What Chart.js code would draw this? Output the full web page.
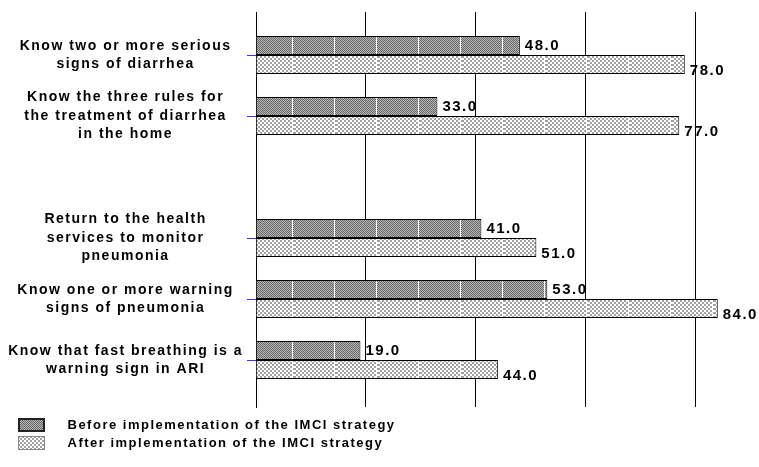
<!DOCTYPE html>
<html>
<head>
<meta charset="utf-8">
<script src="https://cdn.jsdelivr.net/npm/chart.js@4.4.1/dist/chart.umd.min.js"></script>
<style>
  html, body { margin: 0; padding: 0; background: #fff; }
  canvas { display: block; }
</style>
</head>
<body>
<canvas id="imciChart" width="759" height="467"></canvas>
<script>
// categories as wrapped in the original (blank row kept as a gap)
var categories = [
    ['Know two or more serious', 'signs of diarrhea'],
    ['Know the three rules for', 'the treatment of diarrhea', 'in the home'],
    '',
    ['Return to the health', 'services to monitor', 'pneumonia'],
    ['Know one or more warning', 'signs of pneumonia'],
    ['Know that fast breathing is a', 'warning sign in ARI']
];
var beforeValues = [48.0, 33.0, null, 41.0, 53.0, 19.0];
var afterValues = [78.0, 77.0, null, 51.0, 84.0, 44.0];
var seriesNames = [
    'Before implementation of the IMCI strategy',
    'After implementation of the IMCI strategy'
];
var xTicks = [0, 20, 40, 60, 80];

// hatch tiles
function makeTile(w, h, paint) {
    var c = document.createElement('canvas');
    c.width = w;
    c.height = h;
    var g = c.getContext('2d');
    for (var x = 0; x < w; x++) {
        for (var y = 0; y < h; y++) {
            g.fillStyle = paint(x, y);
            g.fillRect(x, y, 1, 1);
        }
    }
    return c;
}
var beforeTile = makeTile(42, 2, function (x, y) {
    if (x === 40) return '#ffffff';
    return (x + y) % 2 ? '#b4b4b4' : '#6a6a6a';
});
var afterTile = makeTile(42, 4, function (x, y) {
    if (x === 40) return '#ffffff';
    return (Math.floor(x / 2) + Math.floor(y / 2)) % 2 ? '#ffffff' : '#a2a2a2';
});
var pctx = document.createElement('canvas').getContext('2d');
var beforeFill = pctx.createPattern(beforeTile, 'repeat');
var afterFill = pctx.createPattern(afterTile, 'repeat');

function makeSwatch(tile, border, bw) {
    var c = document.createElement('canvas');
    c.width = 30;
    c.height = 15;
    var g = c.getContext('2d');
    g.fillStyle = g.createPattern(tile, 'repeat');
    g.fillRect(0, 0, 27, 14);
    g.strokeStyle = border;
    g.lineWidth = bw;
    g.strokeRect(bw / 2, bw / 2, 27 - bw, 14 - bw);
    return c;
}
var swatches = [makeSwatch(beforeTile, '#222', 2), makeSwatch(afterTile, '#888', 1)];

function toPoints(values) {
    var pts = [];
    values.forEach(function (v, i) {
        if (v !== null) pts.push({ x: v, y: i });
    });
    return pts;
}

// wide lettering like the original
var spacing = {
    id: 'spacing',
    beforeUpdate: function (chart) { chart.ctx.letterSpacing = '1.5px'; },
    beforeDraw: function (chart) { chart.ctx.letterSpacing = '1.5px'; }
};

var labelShift = [0, 6];
var valueLabels = {
    id: 'valueLabels',
    afterDatasetsDraw: function (chart) {
        var ctx = chart.ctx;
        ctx.save();
        ctx.font = 'bold 15px "Liberation Sans", Arial, sans-serif';
        ctx.fillStyle = '#000';
        ctx.textAlign = 'left';
        ctx.textBaseline = 'middle';
        chart.data.datasets.forEach(function (ds, di) {
            chart.getDatasetMeta(di).data.forEach(function (bar, i) {
                ctx.fillText(ds.data[i].x.toFixed(1), bar.x + 5, bar.y + labelShift[di]);
            });
        });
        ctx.restore();
    }
};

Chart.defaults.font.family = '"Liberation Sans", Arial, sans-serif';
Chart.defaults.color = '#000';

var ctx = document.getElementById('imciChart').getContext('2d');
var myChart = new Chart(ctx, {
    type: 'bar',
    data: {
        datasets: [{
            label: seriesNames[0],
            data: toPoints(beforeValues),
            backgroundColor: beforeFill,
            borderColor: '#000',
            borderWidth: 1,
            categoryPercentage: 0.62,
            barPercentage: 1.0
        },
        {
            label: seriesNames[1],
            data: toPoints(afterValues),
            backgroundColor: afterFill,
            borderColor: '#000',
            borderWidth: 1,
            categoryPercentage: 0.62,
            barPercentage: 1.0
        }]
    },
    options: {
        indexAxis: 'y',
        responsive: false,
        animation: false,
        layout: {
            padding: { top: 12, bottom: 7, left: 0, right: 0 }
        },
        plugins: {
            tooltip: { enabled: false },
            legend: {
                position: 'bottom',
                align: 'start',
                labels: {
                    usePointStyle: true,
                    pointStyleWidth: 56,
                    padding: 5,
                    color: '#000',
                    font: { size: 13, weight: 'bold' },
                    generateLabels: function (chart) {
                        var items = Chart.defaults.plugins.legend.labels.generateLabels(chart);
                        items.forEach(function (item, i) { item.pointStyle = swatches[i]; });
                        return items;
                    }
                }
            }
        },
        scales: {
            x: {
                type: 'linear',
                min: 0,
                max: 91.5,
                afterBuildTicks: function (scale) {
                    scale.ticks = xTicks.map(function (v) { return { value: v }; });
                },
                ticks: { display: false },
                grid: {
                    color: '#000',
                    lineWidth: 1,
                    tickLength: 7,
                    tickColor: 'rgba(0,0,0,0)'
                },
                border: { display: false }
            },
            y: {
                type: 'linear',
                reverse: true,
                offset: false,
                alignToPixels: true,
                min: -0.7,
                max: 5.77,
                afterBuildTicks: function (scale) {
                    scale.ticks = categories.map(function (c, i) { return { value: i }; });
                },
                afterFit: function (scale) {
                    scale.width = 256;
                    scale.paddingTop = 0;
                    scale.paddingBottom = 0;
                },
                ticks: {
                    autoSkip: false,
                    crossAlign: 'center',
                    padding: 4,
                    color: '#000',
                    font: { size: 14, weight: 'bold', lineHeight: 1.33 },
                    callback: function (value) {
                        return categories[value];
                    }
                },
                grid: {
                    offset: false,
                    drawOnChartArea: false,
                    tickLength: 9,
                    tickColor: function (c) {
                        return c.tick && categories[c.tick.value] ? '#3535ff' : 'rgba(0,0,0,0)';
                    }
                },
                border: { color: '#000', width: 1 }
            }
        }
    },
    plugins: [spacing, valueLabels]
});
</script>
</body>
</html>
